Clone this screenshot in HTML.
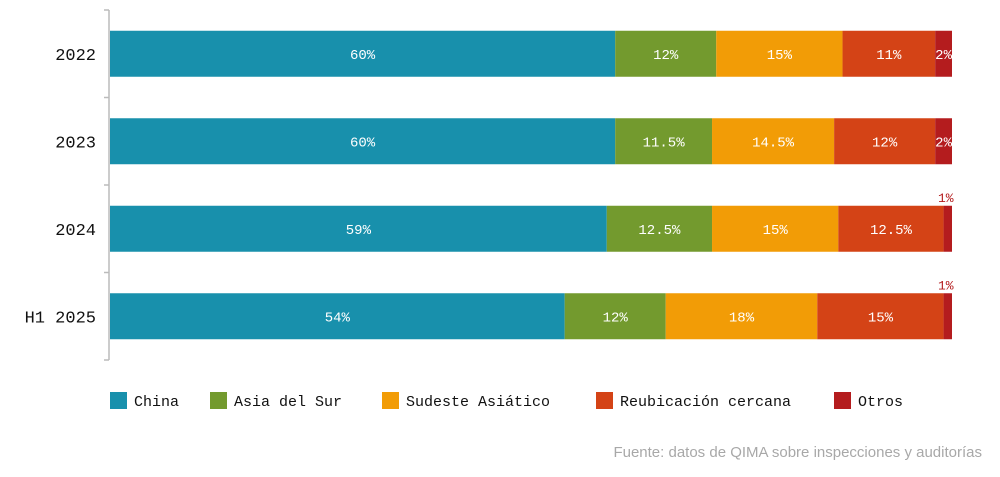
<!DOCTYPE html>
<html><head><meta charset="utf-8"><style>
body{margin:0;background:#fff;width:1000px;height:472px;overflow:hidden;font-family:"Liberation Mono",monospace}
</style></head><body>
<svg width="1000" height="472">
<g id="axis"></g><g id="bars"></g><g id="legend"></g>
<text x="982" y="457" text-anchor="end" font-family="Liberation Sans, sans-serif" font-size="15" fill="#a8a8a8">Fuente: datos de QIMA sobre inspecciones y auditorías</text>
</svg>
<script>
const categories=["2022","2023","2024","H1 2025"];
const seriesNames=["China","Asia del Sur","Sudeste Asiático","Reubicación cercana","Otros"];
const china=[60,60,59,54];
const asiaSur=[12,11.5,12.5,12];
const sudeste=[15,14.5,15,18];
const reubic=[11,12,12.5,15];
const otros=[2,2,1,1];
const colors=["#1890ac","#739a2e","#f29c06","#d44316","#b41c1e"];
const NS="http://www.w3.org/2000/svg";
const x0=110,x1=952,topY=10,band=87.5,barH=46;
function mk(t,a,p){const e=document.createElementNS(NS,t);for(const k in a)e.setAttribute(k,a[k]);p.appendChild(e);return e;}
const series=[china,asiaSur,sudeste,reubic,otros];
function xScale(v){return x0+(x1-x0)*v/100;}
function yBand(i){return topY+i*band;}
const ax=document.getElementById('axis');
let l=mk('line',{x1:109,x2:109,y1:topY,y2:topY+band*categories.length,stroke:'#bbb','stroke-width':1.5},ax);


for(let i=0;i<=categories.length;i++){
 let t=mk('line',{x1:104,x2:109,y1:yBand(i),y2:yBand(i),stroke:'#bbb','stroke-width':1.5},ax);
 
 
}
const bg=document.getElementById('bars');
categories.forEach((c,i)=>{
 const yc=yBand(i)+band/2;
 let lab=mk('text',{x:96,y:yc+6,'text-anchor':'end','font-size':17,fill:'#111'},bg);
 lab.textContent=c;
 
 
 let cum=0;
 series.forEach((s,k)=>{
  const v=s[i],xa=xScale(cum),xb=xScale(cum+v);
  let r=mk('rect',{x:xa,y:yc-barH/2,width:xb-xa,height:barH,fill:colors[k]},bg);
  
  
  const txt=String(v)+'%';
  let t;
  if(v>=2){t=mk('text',{x:(xa+xb)/2,y:yc+5,'text-anchor':'middle','font-size':14,fill:'#fff'},bg);}
  else{t=mk('text',{x:(xa+xb)/2-2,y:yc-barH/2-4,'text-anchor':'middle','font-size':13,fill:'#b41c1e'},bg);}
  t.textContent=txt;
  
  
  cum+=v;
 });
});
const lg=document.getElementById('legend');
const lx=[110,210,382,596,834];
seriesNames.forEach((n,k)=>{
 let g=mk('g',{},lg);
 
 
 mk('rect',{x:lx[k],y:392,width:17,height:17,fill:colors[k]},g);
 let t=mk('text',{x:lx[k]+24,y:406,'font-size':15,fill:'#111'},g);t.textContent=n;
});
</script>
</body></html>
